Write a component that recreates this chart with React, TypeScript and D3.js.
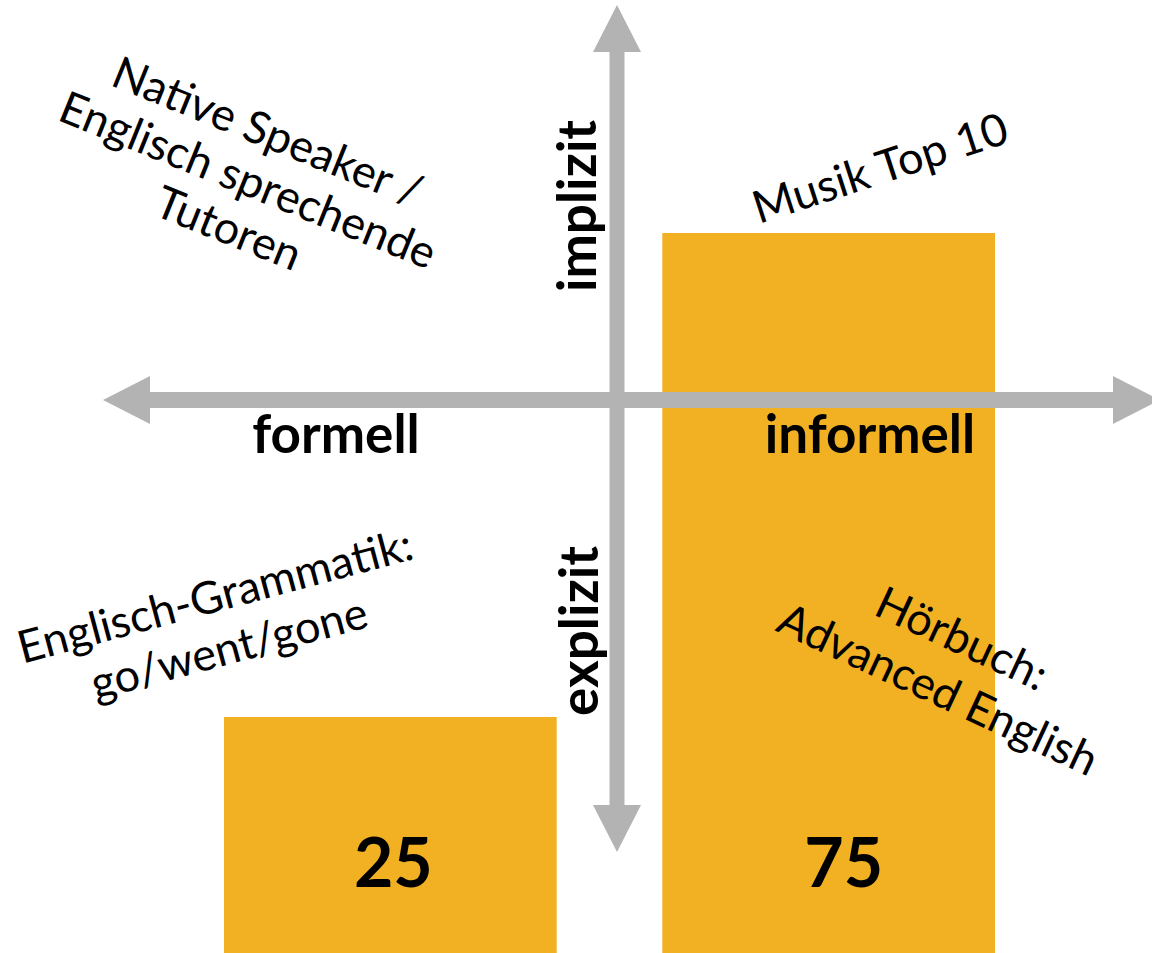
import React, { useRef, useEffect } from 'react';
import * as d3 from 'd3';

// bar data
const categories: string[] = ['formell', 'informell'];
const values: number[] = [25, 75];
const valueLabels: string[] = ['25', '75'];

// axis words of the quadrant
const axisWords: string[] = ['formell', 'informell', 'implizit', 'explizit'];

// rotated quadrant notes
const noteTexts: string[][] = [
  ['Native Speaker /', 'Englisch sprechende', 'Tutoren'],
  ['Musik Top 10'],
  ['Englisch-Grammatik:', 'go/went/gone'],
  ['Hörbuch:', 'Advanced English'],
];

const W = 1152;
const H = 953;

const App: React.FC = () => {
  const svgRef = useRef<SVGSVGElement | null>(null);

  useEffect(() => {
    if (!svgRef.current) return;
    const svg = d3.select(svgRef.current);
    svg.selectAll('*').remove();

    const font = 'Lato, "Open Sans", sans-serif';
    const barColor = '#F2B122';
    const arrowColor = '#B3B3B3';

    const x = d3.scaleBand<string>()
      .domain(categories)
      .range([224, 995])
      .paddingInner(0.241)
      .paddingOuter(0);

    // baseline sits a little below the picture edge
    const y = d3.scaleLinear()
      .domain([0, 75])
      .range([959, 233]);

    // bars
    svg.append('g')
      .selectAll('rect')
      .data(categories)
      .enter()
      .append('rect')
      .attr('x', d => x(d)!)
      .attr('y', (d, i) => y(values[i]))
      .attr('width', x.bandwidth())
      .attr('height', (d, i) => y(0) - y(values[i]))
      .attr('fill', barColor);

    // value labels inside the bars
    const labelDx = [3, 15];
    svg.append('g')
      .selectAll('text')
      .data(categories)
      .enter()
      .append('text')
      .attr('x', (d, i) => x(d)! + x.bandwidth() / 2 + labelDx[i])
      .attr('y', 887)
      .attr('text-anchor', 'middle')
      .attr('font-family', font)
      .attr('font-weight', 700)
      .attr('font-size', 68)
      .attr('fill', '#000')
      .text((d, i) => valueLabels[i]);

    // the cross of arrows
    const cx = 617;
    const cy = 400;
    const shaft = 16;
    const head = 24;
    const headLen = 47;
    const arrows = svg.append('g').attr('fill', arrowColor);
    // horizontal
    arrows.append('rect')
      .attr('x', 150).attr('y', cy - shaft / 2)
      .attr('width', 1113 - 150).attr('height', shaft);
    arrows.append('path')
      .attr('d', `M${150 - headLen},${cy} L150,${cy - head} L150,${cy + head} Z`);
    arrows.append('path')
      .attr('d', `M${1113 + headLen},${cy} L1113,${cy - head} L1113,${cy + head} Z`);
    // vertical
    arrows.append('rect')
      .attr('x', cx - shaft / 2 + 0.5).attr('y', 52)
      .attr('width', shaft - 1).attr('height', 805 - 52);
    arrows.append('path')
      .attr('d', `M${cx},${52 - headLen} L${cx - head},52 L${cx + head},52 Z`);
    arrows.append('path')
      .attr('d', `M${cx},${805 + headLen} L${cx - head},805 L${cx + head},805 Z`);

    // axis words
    const axisPos = [
      { x: 336, y: 453, r: 0 },
      { x: 870, y: 453, r: 0 },
      { x: 596, y: 206, r: -90 },
      { x: 598, y: 631, r: -90 },
    ];
    svg.append('g')
      .selectAll('text')
      .data(axisWords)
      .enter()
      .append('text')
      .attr('transform', (d, i) => `translate(${axisPos[i].x},${axisPos[i].y}) rotate(${axisPos[i].r})`)
      .attr('text-anchor', 'middle')
      .attr('font-family', font)
      .attr('font-weight', 700)
      .attr('font-size', 53)
      .attr('fill', '#000')
      .text(d => d);

    // notes
    const notePos = [
      { x: 248, y: 180, r: 22, lh: 52 },
      { x: 880, y: 168, r: -18, lh: 50 },
      { x: 222, y: 622, r: -15, lh: 54 },
      { x: 950, y: 664, r: 25, lh: 56 },
    ];
    noteTexts.forEach((lines, i) => {
      const p = notePos[i];
      const g = svg.append('g')
        .attr('transform', `translate(${p.x},${p.y}) rotate(${p.r})`);
      const off = (lines.length - 1) / 2;
      lines.forEach((line, j) => {
        g.append('text')
          .attr('x', 0)
          .attr('y', (j - off) * p.lh)
          .attr('dy', '0.35em')
          .attr('text-anchor', 'middle')
          .attr('font-family', font)
          .attr('font-size', 45)
          .attr('fill', '#000')
          .text(line);
      });
    });
  }, []);

  return (
    <div style={{ position: 'absolute', left: 0, top: 0, width: W, height: H, background: '#fff' }}>
      <svg ref={svgRef} width={W} height={H} style={{ display: 'block' }}></svg>
    </div>
  );
};

export default App;
